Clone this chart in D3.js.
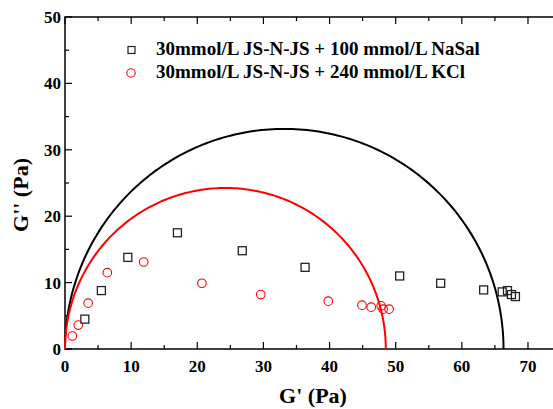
<!DOCTYPE html>
<html>
<head>
<meta charset="utf-8">
<script src="https://cdn.jsdelivr.net/npm/d3@7"></script>
<style>
  body { margin: 0; background: #fff; }
  svg text { font-family: "Liberation Serif", "Times New Roman", serif; font-weight: bold; }
</style>
</head>
<body>
<div id="chart"></div>
<script>
// NaSal series (black squares)
let nasalX = [3.0, 5.5, 9.5, 17.0, 26.8, 36.3, 50.6, 56.8, 63.3, 66.1, 66.9, 67.5, 68.1];
let nasalY = [4.5, 8.8, 13.8, 17.5, 14.8, 12.3, 11.0, 9.9, 8.9, 8.6, 8.8, 8.2, 7.9];
// KCl series (red circles)
let kclX = [1.1, 2.0, 3.5, 6.4, 11.9, 20.7, 29.6, 39.8, 44.9, 46.3, 47.8, 48.1, 49.0];
let kclY = [1.96, 3.6, 6.9, 11.5, 13.1, 9.9, 8.2, 7.2, 6.6, 6.3, 6.5, 6.0, 6.0];
// fitted semicircle diameters (G' intercepts)
let nasalDiameter = 66.3;
let kclDiameter = 48.5;

let legendLabels = ["30mmol/L JS-N-JS + 100 mmol/L NaSal", "30mmol/L JS-N-JS + 240 mmol/L KCl"];
let xTicks = [0, 10, 20, 30, 40, 50, 60, 70];
let yTicks = [0, 10, 20, 30, 40, 50];

let width = 553, height = 409;
let margin = {left: 65, top: 17, bottom: 60};
let plotRight = 65 + 75 * 6.614;

let x = d3.scaleLinear().domain([0, 75]).range([margin.left, plotRight]);
let y = d3.scaleLinear().domain([0, 50]).range([height - margin.bottom, margin.top]);

let svg = d3.select("#chart").append("svg")
    .attr("width", width)
    .attr("height", height);

// frame
svg.append("rect")
    .attr("x", x(0)).attr("y", y(50))
    .attr("width", x(75) - x(0)).attr("height", y(0) - y(50))
    .attr("fill", "none").attr("stroke", "#000").attr("stroke-width", 1.5);

let xAll = d3.range(0, 76, 5);
let yAll = d3.range(0, 51, 5);

let gx = svg.append("g").attr("transform", "translate(0," + y(0) + ")");
gx.selectAll("line").data(xAll).enter().append("line")
    .attr("x1", d => x(d)).attr("x2", d => x(d))
    .attr("y1", 0).attr("y2", d => d % 10 === 0 ? -7 : -4)
    .attr("stroke", "#000").attr("stroke-width", 1.2);
gx.selectAll("text").data(xTicks).enter().append("text")
    .attr("x", d => x(d)).attr("y", 23)
    .attr("text-anchor", "middle")
    .attr("font-size", 17)
    .text(d => d);

let gt = svg.append("g").attr("transform", "translate(0," + y(50) + ")");
gt.selectAll("line").data(xAll).enter().append("line")
    .attr("x1", d => x(d)).attr("x2", d => x(d))
    .attr("y1", 0).attr("y2", d => d % 10 === 0 ? 7 : 4)
    .attr("stroke", "#000").attr("stroke-width", 1.2);

let gy = svg.append("g").attr("transform", "translate(" + x(0) + ",0)");
gy.selectAll("line").data(yAll).enter().append("line")
    .attr("y1", d => y(d)).attr("y2", d => y(d))
    .attr("x1", 0).attr("x2", d => d % 10 === 0 ? 7 : 4)
    .attr("stroke", "#000").attr("stroke-width", 1.2);
gy.selectAll("text").data(yTicks).enter().append("text")
    .attr("x", -4).attr("y", d => y(d) + 6)
    .attr("text-anchor", "end")
    .attr("font-size", 17)
    .text(d => d);

// axis titles
svg.append("text")
    .attr("x", 313).attr("y", 403)
    .attr("text-anchor", "middle").attr("font-size", 22)
    .text("G' (Pa)");
svg.append("text")
    .attr("transform", "translate(28,195) rotate(-90)")
    .attr("text-anchor", "middle").attr("font-size", 22)
    .text("G'' (Pa)");

// semicircles
function semicircle(d) {
    let r = d / 2;
    return d3.range(0, 181, 1).map(a => {
        let t = a / 180 * Math.PI;
        return [r - r * Math.cos(t), r * Math.sin(t)];
    });
}
let line = d3.line().x(p => x(p[0])).y(p => y(p[1]));
svg.append("path").attr("d", line(semicircle(nasalDiameter)))
    .attr("fill", "none").attr("stroke", "#000").attr("stroke-width", 2);
svg.append("path").attr("d", line(semicircle(kclDiameter)))
    .attr("fill", "none").attr("stroke", "#f00").attr("stroke-width", 2);

// points
let nasal = nasalX.map((v, i) => [v, nasalY[i]]);
let kcl = kclX.map((v, i) => [v, kclY[i]]);

svg.append("g").selectAll("rect").data(nasal).enter().append("rect")
    .attr("x", d => x(d[0]) - 4).attr("y", d => y(d[1]) - 4)
    .attr("width", 8).attr("height", 8)
    .attr("fill", "none").attr("stroke", "#222").attr("stroke-width", 1.3);

svg.append("g").selectAll("circle").data(kcl).enter().append("circle")
    .attr("cx", d => x(d[0])).attr("cy", d => y(d[1]))
    .attr("r", 4.3)
    .attr("fill", "none").attr("stroke", "#f00").attr("stroke-width", 1.1);

// legend
let legend = svg.append("g");
legend.append("rect")
    .attr("x", 128).attr("y", 46.5).attr("width", 7).attr("height", 7)
    .attr("fill", "none").attr("stroke", "#222").attr("stroke-width", 1.2);
legend.append("circle")
    .attr("cx", 131).attr("cy", 73).attr("r", 4.2)
    .attr("fill", "none").attr("stroke", "#f00").attr("stroke-width", 1.1);
legend.selectAll("text").data(legendLabels).enter().append("text")
    .attr("x", 156).attr("y", (d, i) => 55 + i * 23)
    .attr("font-size", 19)
    .text(d => d);
</script>
</body>
</html>
